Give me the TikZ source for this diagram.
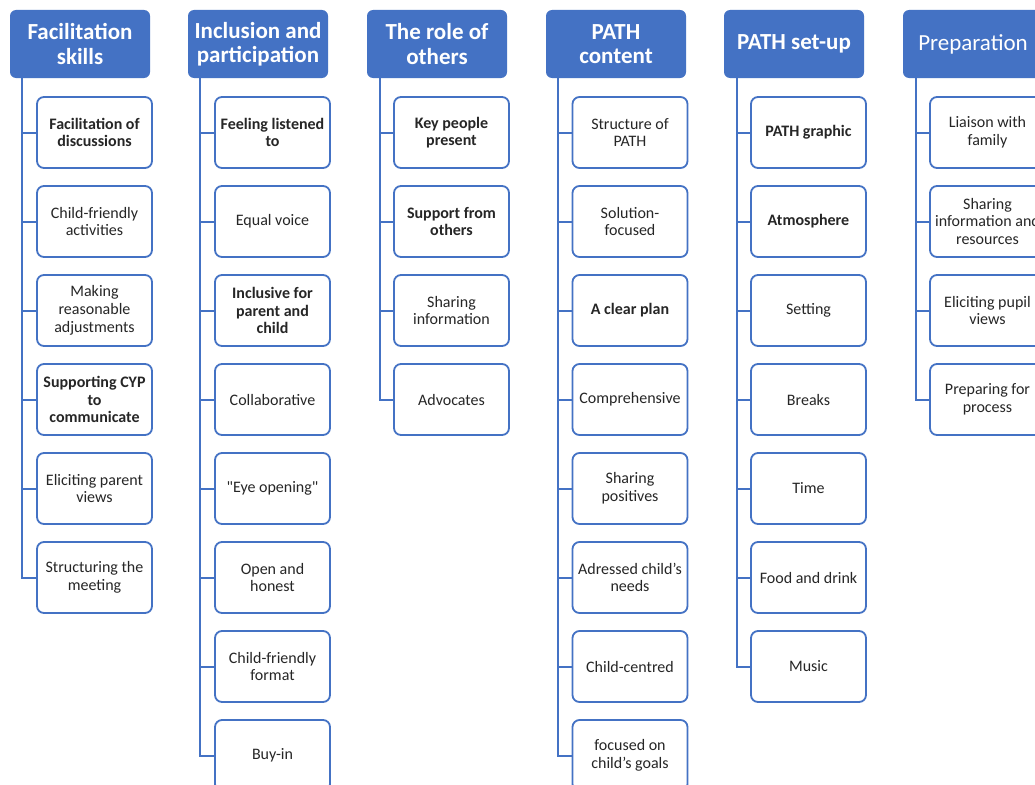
\documentclass[tikz,border=0pt]{standalone}
\usepackage{fontspec}
\setmainfont{Carlito}
% same face without the TeX quote mapping, for straight double quotes
\newfontfamily\straightq{Carlito}[Ligatures=TeXOff]
\definecolor{hdrblue}{HTML}{4472C4}
\definecolor{edgeblue}{HTML}{4472C4}
\begin{document}
\begin{tikzpicture}[x=1pt,y=-1pt,
  header/.style={draw=none, fill=hdrblue, rounded corners=6pt, minimum width=140pt,
    minimum height=68pt, inner sep=2pt, align=center, text=white,
    font=\fontsize{23}{24.5}\selectfont\bfseries},
  item/.style={draw=edgeblue, line width=1.8pt, fill=white, rounded corners=7pt,
    minimum width=115pt, minimum height=71pt, inner sep=1pt, align=center,
    text=black!85, font=\fontsize{16}{17.7}\selectfont},
  key/.style={font=\fontsize{16}{17.7}\selectfont\bfseries},
  link/.style={draw=edgeblue, line width=2pt}]
\clip (0,0) rectangle (1035,784);
\fill[white] (0,0) rectangle (1035,784);

% column headers
\node[header] (h1) at (80,44) {Facilitation\\skills};
\node[header] (h2) at (258,44) {Inclusion and\\participation};
\node[header] (h3) at (437,44) {The role of\\others};
\node[header] (h4) at (616,44) {PATH\\content};
\node[header] (h5) at (794,44) {PATH set-up};
\node[header,font=\fontsize{23}{24.5}\selectfont] (h6) at (973,44) {Preparation};

% spines of each column
\coordinate (v1) at (22,78);
\coordinate (v2) at (200,78);
\coordinate (v3) at (380,78);
\coordinate (v4) at (558,78);
\coordinate (v5) at (737,78);
\coordinate (v6) at (916,78);

% column 1
\node[item,key] (c1-1) at (94.5,132.5) {Facilitation of\\discussions};
\node[item] (c1-2) at (94.5,221.5) {Child-friendly\\activities};
\node[item] (c1-3) at (94.5,310.5) {Making\\reasonable\\adjustments};
\node[item,key] (c1-4) at (94.5,399.5) {Supporting CYP\\to\\communicate};
\node[item] (c1-5) at (94.5,488.5) {Eliciting parent\\views};
\node[item] (c1-6) at (94.5,577.5) {Structuring the\\meeting};

% column 2
\node[item,key] (c2-1) at (272.5,132.5) {Feeling listened\\to};
\node[item] (c2-2) at (272.5,221.5) {Equal voice};
\node[item,key] (c2-3) at (272.5,310.5) {Inclusive for\\parent and\\child};
\node[item] (c2-4) at (272.5,399.5) {Collaborative};
\node[item] (c2-5) at (272.5,488.5) {{\straightq"}Eye opening{\straightq"}};
\node[item] (c2-6) at (272.5,577.5) {Open and\\honest};
\node[item] (c2-7) at (272.5,666.5) {Child-friendly\\format};
\node[item] (c2-8) at (272.5,755.5) {Buy-in};

% column 3
\node[item,key] (c3-1) at (451.5,132.5) {Key people\\present};
\node[item,key] (c3-2) at (451.5,221.5) {Support from\\others};
\node[item] (c3-3) at (451.5,310.5) {Sharing\\information};
\node[item] (c3-4) at (451.5,399.5) {Advocates};

% column 4
\node[item] (c4-1) at (630,132.5) {Structure of\\PATH};
\node[item] (c4-2) at (630,221.5) {Solution-\\focused};
\node[item,key] (c4-3) at (630,310.5) {A clear plan};
\node[item] (c4-4) at (630,399.5) {Comprehensive};
\node[item] (c4-5) at (630,488.5) {Sharing\\positives};
\node[item] (c4-6) at (630,577.5) {Adressed child's\\needs};
\node[item] (c4-7) at (630,666.5) {Child-centred};
\node[item] (c4-8) at (630,755.5) {focused on\\child's goals};

% column 5
\node[item,key] (c5-1) at (808.5,132.5) {PATH graphic};
\node[item,key] (c5-2) at (808.5,221.5) {Atmosphere};
\node[item] (c5-3) at (808.5,310.5) {Setting};
\node[item] (c5-4) at (808.5,399.5) {Breaks};
\node[item] (c5-5) at (808.5,488.5) {Time};
\node[item] (c5-6) at (808.5,577.5) {Food and drink};
\node[item] (c5-7) at (808.5,666.5) {Music};

% column 6
\node[item] (c6-1) at (987.5,132.5) {Liaison with\\family};
\node[item] (c6-2) at (987.5,221.5) {Sharing\\information and\\resources};
\node[item] (c6-3) at (987.5,310.5) {Eliciting pupil\\views};
\node[item] (c6-4) at (987.5,399.5) {Preparing for\\process};

% connectors: spine down to the last item, a branch to every item
\foreach \col/\n in {1/6,2/8,3/4,4/8,5/7,6/4}{
  \draw[link] (v\col) |- (c\col-\n.west);
  \foreach \k in {1,...,\n}{
    \draw[link] (v\col |- c\col-\k.west) -- (c\col-\k.west);
  }
}
\end{tikzpicture}
\end{document}
